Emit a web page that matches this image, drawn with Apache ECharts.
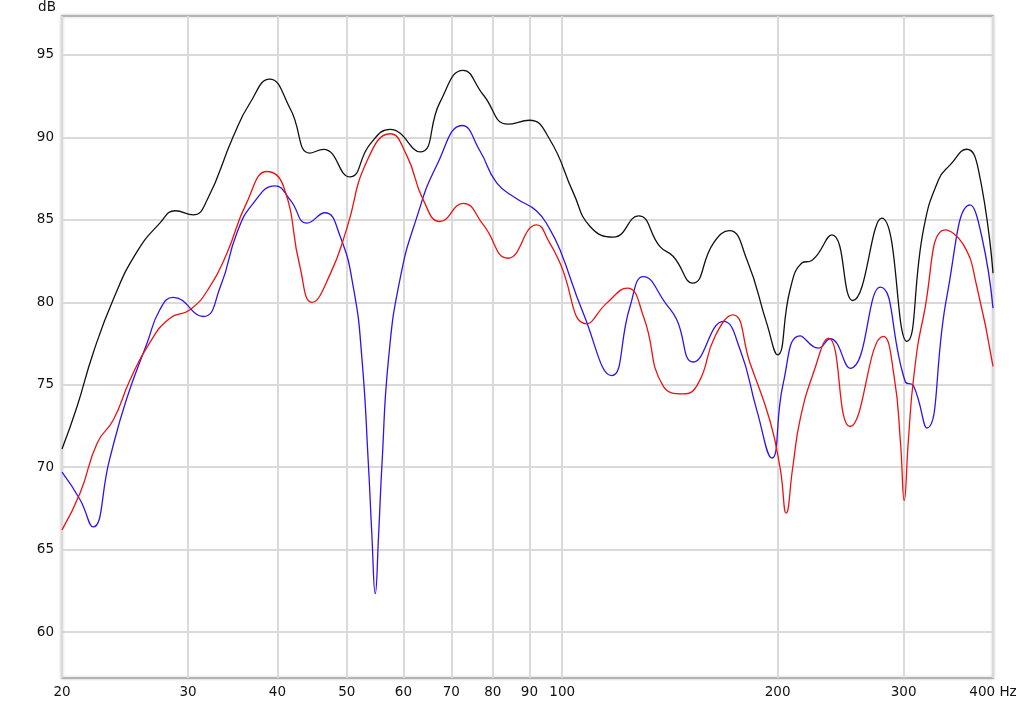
<!DOCTYPE html>
<html>
<head>
<meta charset="utf-8">
<script src="https://cdn.jsdelivr.net/npm/echarts@6/dist/echarts.min.js"></script>
<style>
html,body{margin:0;padding:0;background:#fff;}
#chart{width:1024px;height:705px;}
</style>
</head>
<body>
<div id="chart"></div>
<script>
// Frequency tick values (Hz) and level tick values (dB)
var xTicks = [20, 30, 40, 50, 60, 70, 80, 90, 100, 200, 300, 400];
var yTicks = [60, 65, 70, 75, 80, 85, 90, 95];

// Black curve [Hz, dB]
var blackData = [
  [20, 71.1], [21.0, 73.7], [22.1, 76.9], [23.6, 80.2], [25.4, 83.0], [27.4, 84.8],
  [28.8, 85.55], [30.5, 85.3], [31.9, 86.2], [34.7, 90.05], [36.6, 92.07], [39.0, 93.53],
  [41.7, 91.72], [44.4, 89.05], [46.4, 89.27], [50.5, 87.6], [53.9, 89.59], [57.5, 90.48],
  [63.3, 89.12], [67.5, 92.14], [72.7, 94.06], [77.6, 92.57], [84.0, 90.8], [90.0, 91.04],
  [96.0, 89.9], [103.7, 86.62], [109.4, 84.6], [117.9, 83.95], [127.8, 85.24], [137, 83.38],
  [143, 82.78], [152.2, 81.16], [162.7, 83.59], [171.3, 84.35], [181.2, 82.58], [193.1, 78.74],
  [200, 76.82], [208.2, 80.76], [216.2, 82.38], [223.3, 82.54], [238.2, 84.09], [254.8, 80.11],
  [279.7, 85.1], [303.2, 77.63], [319.8, 84.4], [335.6, 87.42], [348.5, 88.33], [367.6, 89.28],
  [381.7, 88.03], [400, 81.77]
];

// Blue curve [Hz, dB]
var blueData = [
  [20, 69.7], [21.2, 68.03], [22.1, 66.38], [23.3, 70.45], [24.6, 74.09], [26.3, 77.53],
  [27.4, 79.55], [28.6, 80.3], [31.5, 79.14], [33.3, 80.96], [35.1, 84.19], [37.0, 86.0],
  [39.7, 87.06], [41.7, 86.2], [44.0, 84.8], [46.6, 85.43], [48.9, 84.05], [51.1, 80.85],
  [52.5, 76.6], [53.6, 70.2], [54.2, 65.95], [54.8, 62.33], [55.4, 65.95], [56.0, 70.2],
  [57.2, 76.6], [59.4, 81.5], [62.6, 85.12], [66.8, 88.31], [72.5, 90.72], [76.8, 89.16],
  [81, 87.24], [86.4, 86.28], [92.1, 85.54], [96, 84.47], [99.3, 83.18], [107, 79.35],
  [117.3, 75.56], [124.4, 79.75], [129.9, 81.56], [140, 79.85], [144.6, 78.94], [152.5, 76.38],
  [168, 78.84], [177.3, 77.12], [187, 73.48], [196.3, 70.56], [203.7, 75.1], [215, 77.97],
  [228, 77.22], [236.8, 77.79], [252.6, 76.0], [278.2, 80.92], [301.6, 75.2], [309.7, 74.94],
  [323.3, 72.38], [344.8, 80.35], [371.6, 85.91], [385.8, 83.99], [400, 79.65]
];

// Red curve [Hz, dB]
var redData = [
  [20, 66.2], [21.2, 68.44], [22.4, 71.47], [23.6, 72.88], [24.9, 75.3], [26.5, 77.53],
  [28.3, 79.04], [30.2, 79.55], [32.2, 80.96], [34.0, 82.98], [36.2, 86.0], [38.7, 87.93],
  [40.8, 87.02], [43.0, 82.17], [44.7, 80.0], [47.4, 81.71], [50, 84.47], [53.3, 88.52],
  [57.5, 90.22], [60.6, 88.94], [64, 86.18], [67.5, 84.9], [72.7, 86.0], [77.6, 84.69],
  [84.0, 82.67], [92.1, 84.69], [96, 83.62], [99.3, 82.38], [108.2, 78.7], [115.4, 79.95],
  [123.3, 80.86], [129.9, 79.14], [138.5, 74.9], [147.7, 74.45], [155, 75.1], [163.5, 77.93],
  [173.2, 79.24], [183, 76.32], [195.2, 72.8], [201.8, 69.85], [205.6, 67.22], [210, 70.0],
  [215, 72.88], [224.4, 75.71], [235.6, 77.83], [252.6, 72.47], [281, 77.93], [291, 75.5],
  [297, 71.5], [300.6, 67.99], [304.5, 71.5], [310, 75.5], [319.8, 79.14], [343, 84.39],
  [363.8, 83.48], [379.7, 80.96], [400, 76.11]
];

var chart = echarts.init(document.getElementById('chart'), null, {renderer: 'canvas'});
var labelFont = {fontFamily: 'DejaVu Sans', fontSize: 13.5, color: '#111'};

chart.setOption({
  animation: false,
  backgroundColor: '#fff',
  grid: {
    left: 62, right: 31, top: 16, bottom: 27,
    show: true,
    backgroundColor: '#fff',
    borderColor: '#b4b4b4',
    borderWidth: 2,
    shadowBlur: 3,
    shadowColor: 'rgba(0,0,0,0.2)',
    shadowOffsetX: 0,
    shadowOffsetY: 0
  },
  graphic: [{
    type: 'text',
    x: 47, y: 7.5,
    style: {text: 'dB', font: '13.5px "DejaVu Sans"', fill: '#111',
            textAlign: 'center', textVerticalAlign: 'middle'}
  }],
  xAxis: {
    type: 'log',
    logBase: 10,
    min: 20,
    max: 400,
    axisLine: {show: false},
    axisTick: {show: false, customValues: xTicks},
    axisLabel: Object.assign({
      customValues: xTicks,
      margin: 7,
      formatter: function (v) { return v === 400 ? '400 Hz' : String(v); }
    }, labelFont),
    splitLine: {show: true, lineStyle: {color: '#dadada', width: 2}}
  },
  yAxis: {
    type: 'value',
    min: 57.22,
    max: 97.36,
    axisLine: {show: false},
    axisTick: {show: false, customValues: yTicks},
    axisLabel: Object.assign({customValues: yTicks, margin: 8}, labelFont),
    splitLine: {show: true, lineStyle: {color: '#dadada', width: 2}}
  },
  series: [
    {type: 'line', data: blackData, smooth: 0.5, showSymbol: false, silent: true,
     lineStyle: {color: '#111111', width: 1.3}},
    {type: 'line', data: blueData, smooth: 0.5, showSymbol: false, silent: true,
     lineStyle: {color: '#3311ee', width: 1.3}},
    {type: 'line', data: redData, smooth: 0.5, showSymbol: false, silent: true,
     lineStyle: {color: '#ee1111', width: 1.3}}
  ]
});
</script>
</body>
</html>
